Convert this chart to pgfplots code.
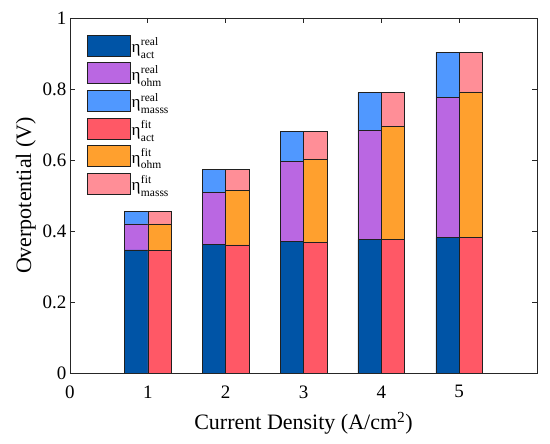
\documentclass[border=0pt]{standalone}
\usepackage{pgfplots}
\pgfplotsset{compat=1.18}
\usepackage{fontspec}
\setmainfont{Liberation Serif}
\definecolor{cA}{HTML}{0054A6}
\definecolor{cB}{HTML}{BA67E2}
\definecolor{cC}{HTML}{5098FF}
\definecolor{cD}{HTML}{FF5866}
\definecolor{cE}{HTML}{FFA02E}
\definecolor{cF}{HTML}{FF8E97}
\definecolor{edge}{HTML}{202020}
\definecolor{axgray}{HTML}{262626}
\newcommand{\leg}[2]{{\fontsize{17bp}{17bp}\selectfont η}\hspace{0.5bp}{\fontsize{11.5bp}{12.5bp}\selectfont\begin{tabular}[c]{@{}l@{}}#1\\#2\end{tabular}}}
\pgfplotsset{
  base/.style={width=467bp,height=355bp,scale only axis,
    xmin=0,xmax=6,ymin=0,ymax=1,
    ybar stacked, bar width=0.3},
  legbox/.style={legend image code/.code={\draw[##1] (0bp,-10.5bp) rectangle (43bp,10.5bp);}},
}
\begin{document}
\begin{tikzpicture}
\begin{axis}[base, bar shift=-0.15,
  axis line style={color=axgray, line width=0.8bp},
  tick style={color=axgray, line width=0.8bp},
  tick align=inside, major tick length=5bp,
  xtick={0,1,2,3,4,5}, ytick={0,0.2,0.4,0.6,0.8,1},
  yticklabels={0,0.2,0.4,0.6,0.8,1},
  /pgf/number format/assume math mode=true,
  ticklabel style={font=\fontsize{19bp}{22bp}\selectfont, color=black},
  xticklabel style={yshift=-9bp},
  label style={font=\fontsize{22bp}{26bp}\selectfont},
  xlabel style={yshift=-7bp},
  xlabel={Current Density (A/cm\textsuperscript{2})},
  ylabel={Overpotential (V)},
  legend style={at={(0.036,0.953)}, anchor=north west, draw=none, fill=none,
    row sep=6bp, inner sep=0bp, legend cell align=left,
    nodes={inner sep=1bp}},
]
\addplot[fill=cA, draw=edge, line width=0.6bp, legbox] coordinates {(1,0.347) (2,0.362) (3,0.370) (4,0.376) (5,0.381)};
\addlegendentry{\leg{real}{act}}
\addplot[fill=cB, draw=edge, line width=0.6bp, legbox] coordinates {(1,0.073) (2,0.147) (3,0.227) (4,0.307) (5,0.395)};
\addlegendentry{\leg{real}{ohm}}
\addplot[fill=cC, draw=edge, line width=0.6bp, legbox] coordinates {(1,0.035) (2,0.064) (3,0.084) (4,0.107) (5,0.128)};
\addlegendentry{\leg{real}{masss}}
\addlegendimage{fill=cD, draw=edge, line width=0.6bp, legbox}
\addlegendentry{\leg{fit}{act}}
\addlegendimage{fill=cE, draw=edge, line width=0.6bp, legbox}
\addlegendentry{\leg{fit}{ohm}}
\addlegendimage{fill=cF, draw=edge, line width=0.6bp, legbox}
\addlegendentry{\leg{fit}{masss}}
\end{axis}
\begin{axis}[base, bar shift=0.15, hide axis]
\addplot[fill=cD, draw=edge, line width=0.6bp] coordinates {(1,0.345) (2,0.361) (3,0.368) (4,0.376) (5,0.381)};
\addplot[fill=cE, draw=edge, line width=0.6bp] coordinates {(1,0.075) (2,0.153) (3,0.235) (4,0.319) (5,0.411)};
\addplot[fill=cF, draw=edge, line width=0.6bp] coordinates {(1,0.035) (2,0.059) (3,0.078) (4,0.095) (5,0.112)};
\end{axis}
\pgfresetboundingbox
\path[use as bounding box] (-70bp,-71bp) rectangle (480bp,373bp);
\end{tikzpicture}
\end{document}
